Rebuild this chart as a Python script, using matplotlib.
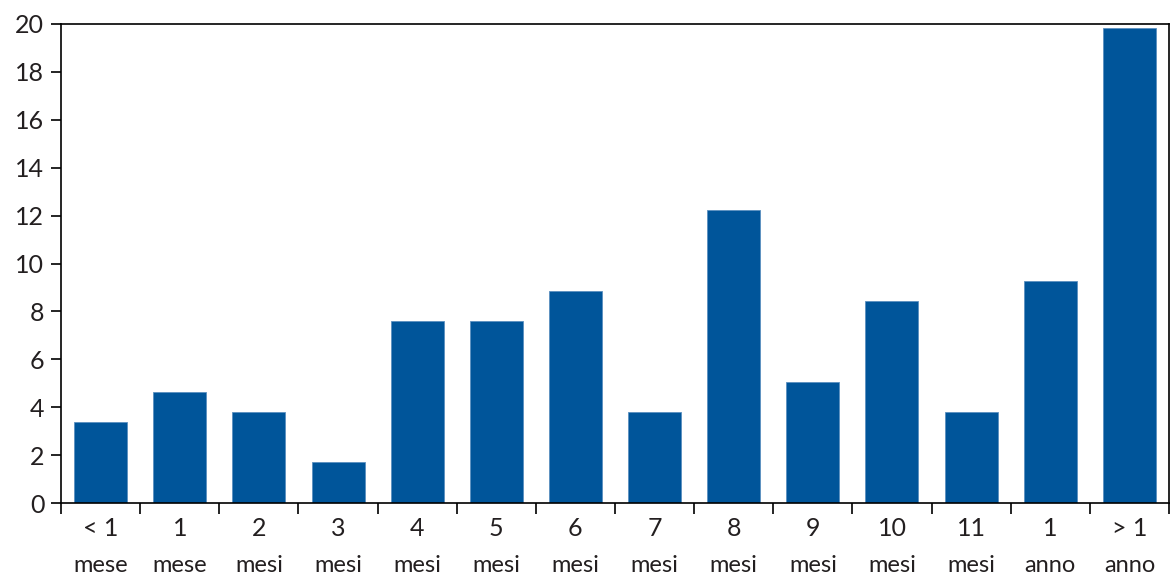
import matplotlib.pyplot as plt
import numpy as np

plt.rcParams['font.family'] = ['Lato', 'DejaVu Sans']

top_labels = ["< 1", "1", "2", "3", "4", "5", "6", "7", "8", "9", "10", "11", "1", "> 1"]
bottom_labels = ["mese", "mese", "mesi", "mesi", "mesi", "mesi", "mesi", "mesi",
                 "mesi", "mesi", "mesi", "mesi", "anno", "anno"]
values = [3.38, 4.63, 3.80, 1.71, 7.60, 7.60, 8.85, 3.80, 12.23, 5.05, 8.43, 3.80, 9.27, 19.83]

text_col = "#231f20"
bar_col = "#00559a"

fig = plt.figure(figsize=(11.76, 5.85), dpi=100)
ax = fig.add_axes([0.0519, 0.140, 0.9421, 0.819])

x = np.arange(len(values))
ax.bar(x, values, width=0.67, color=bar_col, edgecolor="#5b8fc0", linewidth=0.6)

ax.set_xlim(-0.5, len(values) - 0.5)
ax.set_ylim(0, 20)
ax.set_yticks(np.arange(0, 21, 2))
ax.tick_params(axis='y', direction='out', length=7, width=1.2, labelsize=18,
               labelcolor=text_col, pad=5)

# boundary ticks without labels; category labels drawn as two text rows
ax.set_xticks(np.arange(-0.5, len(values), 1.0))
ax.set_xticklabels([])
ax.tick_params(axis='x', which='major', direction='out', length=8, width=1.2)
for xi, t, b in zip(x, top_labels, bottom_labels):
    ax.annotate(t, xy=(xi, 0), xycoords=('data', 'axes fraction'),
                xytext=(0, -25), textcoords='offset pixels',
                ha='center', va='center', fontsize=18, color=text_col)
    ax.annotate(b, xy=(xi, 0), xycoords=('data', 'axes fraction'),
                xytext=(0, -62), textcoords='offset pixels',
                ha='center', va='center', fontsize=17, color=text_col)

for s in ax.spines.values():
    s.set_linewidth(1.2)
    s.set_color("black")

fig.savefig("out.png", dpi=100)
